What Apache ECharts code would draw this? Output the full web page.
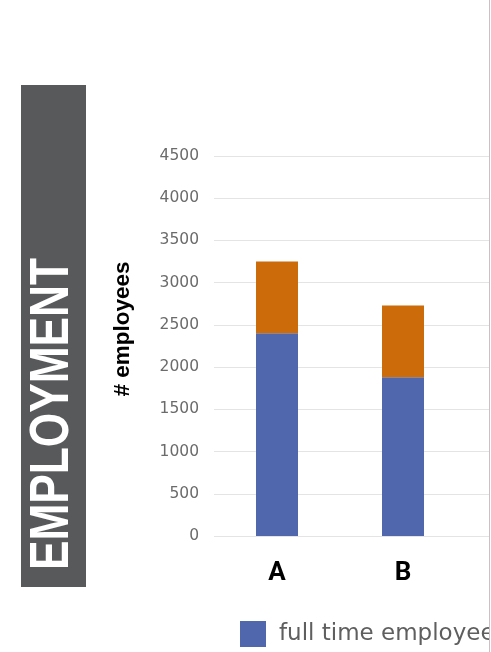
<!DOCTYPE html>
<html>
<head>
<meta charset="utf-8">
<script src="https://cdn.jsdelivr.net/npm/echarts@6/dist/echarts.min.js"></script>
<style>
  html, body { margin: 0; padding: 0; background: #ffffff; }
  #frame { position: absolute; left: 0; top: 0; width: 489px; height: 652px; overflow: hidden; border-right: 1px solid #c4c4c4; }
  #chart { width: 800px; height: 652px; }
</style>
</head>
<body>
<div id="frame"><div id="chart"></div></div>
<script>
// Employee counts per site
const categories = ['A', 'B'];
const fullTime = [2400, 1880];
const partTime = [850, 850];
const yTicks = { min: 0, max: 4500, interval: 500 };

const chart = echarts.init(document.getElementById('chart'), null, { renderer: 'canvas' });

chart.setOption({
  animation: false,
  backgroundColor: '#ffffff',
  grid: { left: 214, top: 156, width: 378, bottom: 116, containLabel: false },
  xAxis: {
    type: 'category',
    data: categories,
    max: 2,
    axisLine: { show: false },
    axisTick: { show: false },
    axisLabel: {
      margin: 24,
      fontFamily: 'Roboto',
      fontWeight: 'bold',
      fontSize: 26,
      color: '#000000'
    }
  },
  yAxis: {
    type: 'value',
    min: yTicks.min,
    max: yTicks.max,
    interval: yTicks.interval,
    axisLine: { show: false },
    axisTick: { show: false },
    axisLabel: {
      margin: 15,
      fontFamily: 'DejaVu Sans',
      fontSize: 15.5,
      color: '#6b6b6b',
      formatter: (v) => String(v)
    },
    splitLine: { lineStyle: { color: '#e4e4e4', width: 1 } }
  },
  legend: {
    left: 240,
    top: 621,
    padding: 0,
    itemWidth: 26,
    itemHeight: 26,
    itemGap: 30,
    icon: 'rect',
    textStyle: { fontFamily: 'DejaVu Sans', fontSize: 23, color: '#5f5f5f', padding: [0, 0, 0, 8] },
    data: ['full time employees', 'part time employees']
  },
  series: [
    {
      name: 'full time employees',
      type: 'bar',
      stack: 'staff',
      barWidth: 42,
      itemStyle: { color: '#5067ae' },
      data: fullTime
    },
    {
      name: 'part time employees',
      type: 'bar',
      stack: 'staff',
      barWidth: 42,
      itemStyle: { color: '#cb6b09' },
      data: partTime
    }
  ],
  graphic: [
    {
      type: 'rect',
      shape: { x: 21, y: 85, width: 65, height: 502 },
      style: { fill: '#58595b' }
    },
    {
      // section title, set vertically and condensed
      type: 'text',
      x: 53,
      y: 414,
      rotation: Math.PI / 2,
      scaleX: 0.79,
      style: {
        text: 'EMPLOYMENT',
        fill: '#ffffff',
        fontFamily: 'Liberation Sans',
        fontWeight: 'bold',
        fontSize: 56,
        align: 'center',
        verticalAlign: 'middle'
      }
    },
    {
      type: 'text',
      x: 123,
      y: 329,
      rotation: Math.PI / 2,
      style: {
        text: '# employees',
        fill: '#000000',
        fontFamily: 'Liberation Sans',
        fontWeight: 'bold',
        fontSize: 22.5,
        align: 'center',
        verticalAlign: 'middle'
      }
    }
  ]
});
</script>
</body>
</html>
